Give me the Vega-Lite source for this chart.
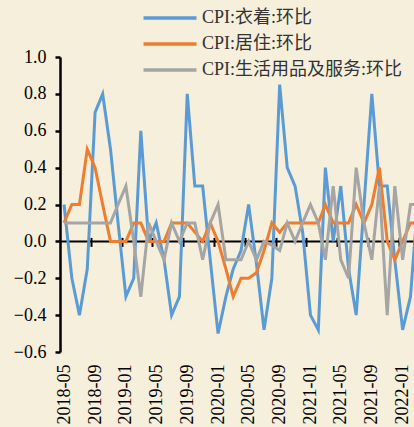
{
  "$schema": "https://vega.github.io/schema/vega-lite/v6.json",
  "width": 354,
  "height": 295,
  "autosize": {"type": "none"},
  "padding": {"left": 60, "top": 57, "right": 0, "bottom": 75},
  "background": "#f5efdc",
  "config": {"view": {"stroke": null}, "font": "Liberation Serif", "axis": {"labelFont": "Liberation Serif"}},
  "datasets": {
    "cpi": [
      {"date": "2018-05", "series": "CPI:衣着:环比", "value": 0.2},
      {"date": "2018-06", "series": "CPI:衣着:环比", "value": -0.2},
      {"date": "2018-07", "series": "CPI:衣着:环比", "value": -0.4},
      {"date": "2018-08", "series": "CPI:衣着:环比", "value": -0.15},
      {"date": "2018-09", "series": "CPI:衣着:环比", "value": 0.7},
      {"date": "2018-10", "series": "CPI:衣着:环比", "value": 0.8},
      {"date": "2018-11", "series": "CPI:衣着:环比", "value": 0.5},
      {"date": "2018-12", "series": "CPI:衣着:环比", "value": 0.1},
      {"date": "2019-01", "series": "CPI:衣着:环比", "value": -0.3},
      {"date": "2019-02", "series": "CPI:衣着:环比", "value": -0.2},
      {"date": "2019-03", "series": "CPI:衣着:环比", "value": 0.6},
      {"date": "2019-04", "series": "CPI:衣着:环比", "value": 0.0},
      {"date": "2019-05", "series": "CPI:衣着:环比", "value": 0.1},
      {"date": "2019-06", "series": "CPI:衣着:环比", "value": -0.1},
      {"date": "2019-07", "series": "CPI:衣着:环比", "value": -0.4},
      {"date": "2019-08", "series": "CPI:衣着:环比", "value": -0.3},
      {"date": "2019-09", "series": "CPI:衣着:环比", "value": 0.8},
      {"date": "2019-10", "series": "CPI:衣着:环比", "value": 0.3},
      {"date": "2019-11", "series": "CPI:衣着:环比", "value": 0.3},
      {"date": "2019-12", "series": "CPI:衣着:环比", "value": -0.1},
      {"date": "2020-01", "series": "CPI:衣着:环比", "value": -0.5},
      {"date": "2020-02", "series": "CPI:衣着:环比", "value": -0.3},
      {"date": "2020-03", "series": "CPI:衣着:环比", "value": -0.15},
      {"date": "2020-04", "series": "CPI:衣着:环比", "value": -0.05},
      {"date": "2020-05", "series": "CPI:衣着:环比", "value": 0.2},
      {"date": "2020-06", "series": "CPI:衣着:环比", "value": -0.12},
      {"date": "2020-07", "series": "CPI:衣着:环比", "value": -0.48},
      {"date": "2020-08", "series": "CPI:衣着:环比", "value": -0.2},
      {"date": "2020-09", "series": "CPI:衣着:环比", "value": 0.85},
      {"date": "2020-10", "series": "CPI:衣着:环比", "value": 0.4},
      {"date": "2020-11", "series": "CPI:衣着:环比", "value": 0.3},
      {"date": "2020-12", "series": "CPI:衣着:环比", "value": 0.05},
      {"date": "2021-01", "series": "CPI:衣着:环比", "value": -0.4},
      {"date": "2021-02", "series": "CPI:衣着:环比", "value": -0.48},
      {"date": "2021-03", "series": "CPI:衣着:环比", "value": 0.4},
      {"date": "2021-04", "series": "CPI:衣着:环比", "value": 0.0},
      {"date": "2021-05", "series": "CPI:衣着:环比", "value": 0.3},
      {"date": "2021-06", "series": "CPI:衣着:环比", "value": -0.15},
      {"date": "2021-07", "series": "CPI:衣着:环比", "value": -0.4},
      {"date": "2021-08", "series": "CPI:衣着:环比", "value": 0.2},
      {"date": "2021-09", "series": "CPI:衣着:环比", "value": 0.8},
      {"date": "2021-10", "series": "CPI:衣着:环比", "value": 0.3},
      {"date": "2021-11", "series": "CPI:衣着:环比", "value": 0.3},
      {"date": "2021-12", "series": "CPI:衣着:环比", "value": -0.1},
      {"date": "2022-01", "series": "CPI:衣着:环比", "value": -0.48},
      {"date": "2022-02", "series": "CPI:衣着:环比", "value": -0.3},
      {"date": "2022-03", "series": "CPI:衣着:环比", "value": 0.2},
      {"date": "2018-05", "series": "CPI:居住:环比", "value": 0.1},
      {"date": "2018-06", "series": "CPI:居住:环比", "value": 0.2},
      {"date": "2018-07", "series": "CPI:居住:环比", "value": 0.2},
      {"date": "2018-08", "series": "CPI:居住:环比", "value": 0.5},
      {"date": "2018-09", "series": "CPI:居住:环比", "value": 0.4},
      {"date": "2018-10", "series": "CPI:居住:环比", "value": 0.2},
      {"date": "2018-11", "series": "CPI:居住:环比", "value": 0.0},
      {"date": "2018-12", "series": "CPI:居住:环比", "value": 0.0},
      {"date": "2019-01", "series": "CPI:居住:环比", "value": 0.0},
      {"date": "2019-02", "series": "CPI:居住:环比", "value": 0.1},
      {"date": "2019-03", "series": "CPI:居住:环比", "value": 0.1},
      {"date": "2019-04", "series": "CPI:居住:环比", "value": 0.0},
      {"date": "2019-05", "series": "CPI:居住:环比", "value": 0.0},
      {"date": "2019-06", "series": "CPI:居住:环比", "value": 0.0},
      {"date": "2019-07", "series": "CPI:居住:环比", "value": 0.1},
      {"date": "2019-08", "series": "CPI:居住:环比", "value": 0.1},
      {"date": "2019-09", "series": "CPI:居住:环比", "value": 0.1},
      {"date": "2019-10", "series": "CPI:居住:环比", "value": 0.05},
      {"date": "2019-11", "series": "CPI:居住:环比", "value": 0.0},
      {"date": "2019-12", "series": "CPI:居住:环比", "value": 0.1},
      {"date": "2020-01", "series": "CPI:居住:环比", "value": 0.0},
      {"date": "2020-02", "series": "CPI:居住:环比", "value": -0.15},
      {"date": "2020-03", "series": "CPI:居住:环比", "value": -0.3},
      {"date": "2020-04", "series": "CPI:居住:环比", "value": -0.2},
      {"date": "2020-05", "series": "CPI:居住:环比", "value": -0.2},
      {"date": "2020-06", "series": "CPI:居住:环比", "value": -0.17},
      {"date": "2020-07", "series": "CPI:居住:环比", "value": -0.05},
      {"date": "2020-08", "series": "CPI:居住:环比", "value": 0.1},
      {"date": "2020-09", "series": "CPI:居住:环比", "value": 0.05},
      {"date": "2020-10", "series": "CPI:居住:环比", "value": 0.1},
      {"date": "2020-11", "series": "CPI:居住:环比", "value": 0.1},
      {"date": "2020-12", "series": "CPI:居住:环比", "value": 0.1},
      {"date": "2021-01", "series": "CPI:居住:环比", "value": 0.1},
      {"date": "2021-02", "series": "CPI:居住:环比", "value": 0.1},
      {"date": "2021-03", "series": "CPI:居住:环比", "value": 0.2},
      {"date": "2021-04", "series": "CPI:居住:环比", "value": 0.1},
      {"date": "2021-05", "series": "CPI:居住:环比", "value": 0.1},
      {"date": "2021-06", "series": "CPI:居住:环比", "value": 0.1},
      {"date": "2021-07", "series": "CPI:居住:环比", "value": 0.2},
      {"date": "2021-08", "series": "CPI:居住:环比", "value": 0.1},
      {"date": "2021-09", "series": "CPI:居住:环比", "value": 0.2},
      {"date": "2021-10", "series": "CPI:居住:环比", "value": 0.4},
      {"date": "2021-11", "series": "CPI:居住:环比", "value": 0.0},
      {"date": "2021-12", "series": "CPI:居住:环比", "value": -0.1},
      {"date": "2022-01", "series": "CPI:居住:环比", "value": 0.0},
      {"date": "2022-02", "series": "CPI:居住:环比", "value": 0.1},
      {"date": "2022-03", "series": "CPI:居住:环比", "value": 0.1},
      {"date": "2018-05", "series": "CPI:生活用品及服务:环比", "value": 0.1},
      {"date": "2018-06", "series": "CPI:生活用品及服务:环比", "value": 0.1},
      {"date": "2018-07", "series": "CPI:生活用品及服务:环比", "value": 0.1},
      {"date": "2018-08", "series": "CPI:生活用品及服务:环比", "value": 0.1},
      {"date": "2018-09", "series": "CPI:生活用品及服务:环比", "value": 0.1},
      {"date": "2018-10", "series": "CPI:生活用品及服务:环比", "value": 0.1},
      {"date": "2018-11", "series": "CPI:生活用品及服务:环比", "value": 0.1},
      {"date": "2018-12", "series": "CPI:生活用品及服务:环比", "value": 0.2},
      {"date": "2019-01", "series": "CPI:生活用品及服务:环比", "value": 0.3},
      {"date": "2019-02", "series": "CPI:生活用品及服务:环比", "value": 0.0},
      {"date": "2019-03", "series": "CPI:生活用品及服务:环比", "value": -0.3},
      {"date": "2019-04", "series": "CPI:生活用品及服务:环比", "value": 0.1},
      {"date": "2019-05", "series": "CPI:生活用品及服务:环比", "value": 0.0},
      {"date": "2019-06", "series": "CPI:生活用品及服务:环比", "value": -0.1},
      {"date": "2019-07", "series": "CPI:生活用品及服务:环比", "value": 0.1},
      {"date": "2019-08", "series": "CPI:生活用品及服务:环比", "value": 0.0},
      {"date": "2019-09", "series": "CPI:生活用品及服务:环比", "value": 0.1},
      {"date": "2019-10", "series": "CPI:生活用品及服务:环比", "value": 0.1},
      {"date": "2019-11", "series": "CPI:生活用品及服务:环比", "value": -0.1},
      {"date": "2019-12", "series": "CPI:生活用品及服务:环比", "value": 0.1},
      {"date": "2020-01", "series": "CPI:生活用品及服务:环比", "value": 0.2},
      {"date": "2020-02", "series": "CPI:生活用品及服务:环比", "value": -0.1},
      {"date": "2020-03", "series": "CPI:生活用品及服务:环比", "value": -0.1},
      {"date": "2020-04", "series": "CPI:生活用品及服务:环比", "value": -0.1},
      {"date": "2020-05", "series": "CPI:生活用品及服务:环比", "value": 0.0},
      {"date": "2020-06", "series": "CPI:生活用品及服务:环比", "value": -0.1},
      {"date": "2020-07", "series": "CPI:生活用品及服务:环比", "value": 0.0},
      {"date": "2020-08", "series": "CPI:生活用品及服务:环比", "value": -0.02},
      {"date": "2020-09", "series": "CPI:生活用品及服务:环比", "value": -0.05},
      {"date": "2020-10", "series": "CPI:生活用品及服务:环比", "value": 0.1},
      {"date": "2020-11", "series": "CPI:生活用品及服务:环比", "value": 0.0},
      {"date": "2020-12", "series": "CPI:生活用品及服务:环比", "value": 0.1},
      {"date": "2021-01", "series": "CPI:生活用品及服务:环比", "value": 0.2},
      {"date": "2021-02", "series": "CPI:生活用品及服务:环比", "value": 0.1},
      {"date": "2021-03", "series": "CPI:生活用品及服务:环比", "value": -0.1},
      {"date": "2021-04", "series": "CPI:生活用品及服务:环比", "value": 0.3},
      {"date": "2021-05", "series": "CPI:生活用品及服务:环比", "value": -0.1},
      {"date": "2021-06", "series": "CPI:生活用品及服务:环比", "value": -0.2},
      {"date": "2021-07", "series": "CPI:生活用品及服务:环比", "value": 0.4},
      {"date": "2021-08", "series": "CPI:生活用品及服务:环比", "value": 0.1},
      {"date": "2021-09", "series": "CPI:生活用品及服务:环比", "value": -0.1},
      {"date": "2021-10", "series": "CPI:生活用品及服务:环比", "value": 0.3},
      {"date": "2021-11", "series": "CPI:生活用品及服务:环比", "value": -0.4},
      {"date": "2021-12", "series": "CPI:生活用品及服务:环比", "value": 0.3},
      {"date": "2022-01", "series": "CPI:生活用品及服务:环比", "value": -0.1},
      {"date": "2022-02", "series": "CPI:生活用品及服务:环比", "value": 0.2},
      {"date": "2022-03", "series": "CPI:生活用品及服务:环比", "value": 0.2}
    ]
  },
  "resolve": {"axis": {"x": "independent", "y": "independent"}},
  "layer": [
    {
      "data": {"values": [{"zero": 0}]},
      "mark": {"type": "rule", "color": "black", "strokeWidth": 2},
      "encoding": {
        "y": {"field": "zero", "type": "quantitative", "scale": {"domain": [-0.6, 1.0], "nice": false, "zero": false}, "axis": null}
      }
    },
    {
      "data": {"name": "cpi"},
      "mark": {"type": "line", "strokeWidth": 3, "clip": true},
      "encoding": {
        "x": {
          "field": "date", "type": "temporal",
          "scale": {"type": "utc", "domain": [{"year": 2018, "month": 4, "date": 15, "utc": true}, {"year": 2022, "month": 2, "date": 15, "utc": true}]},
          "axis": {
            "orient": "bottom", "title": null, "grid": false, "domain": false, "ticks": false,
            "values": [
              {"year": 2018, "month": 5, "date": 1, "utc": true},
              {"year": 2018, "month": 9, "date": 1, "utc": true},
              {"year": 2019, "month": 1, "date": 1, "utc": true},
              {"year": 2019, "month": 5, "date": 1, "utc": true},
              {"year": 2019, "month": 9, "date": 1, "utc": true},
              {"year": 2020, "month": 1, "date": 1, "utc": true},
              {"year": 2020, "month": 5, "date": 1, "utc": true},
              {"year": 2020, "month": 9, "date": 1, "utc": true},
              {"year": 2021, "month": 1, "date": 1, "utc": true},
              {"year": 2021, "month": 5, "date": 1, "utc": true},
              {"year": 2021, "month": 9, "date": 1, "utc": true},
              {"year": 2022, "month": 1, "date": 1, "utc": true}
            ],
            "labelExpr": "utcFormat(datum.value, '%Y-%m')",
            "labelAngle": -90, "labelFontSize": 18, "labelColor": "black", "labelPadding": 12,
            "labelOverlap": false, "labelBound": false, "labelFlush": false
          }
        },
        "y": {
          "field": "value", "type": "quantitative",
          "scale": {"domain": [-0.6, 1.0], "nice": false, "zero": false},
          "axis": {
            "title": null, "grid": false,
            "values": [-0.6, -0.4, -0.2, 0, 0.2, 0.4, 0.6, 0.8, 1.0],
            "format": ".1f",
            "domainColor": "black", "domainWidth": 2.5,
            "tickColor": "black", "tickWidth": 2.5, "tickSize": 5,
            "labelFontSize": 18, "labelColor": "black", "labelPadding": 9
          }
        },
        "color": {
          "field": "series", "type": "nominal",
          "scale": {"domain": ["CPI:衣着:环比", "CPI:居住:环比", "CPI:生活用品及服务:环比"], "range": ["#5B9BD5", "#ED7D31", "#A5A5A5"]},
          "legend": {
            "orient": "none", "legendX": 101, "legendY": -48, "title": null,
            "symbolType": "M-5.3,0H5.3", "symbolSize": 100, "symbolStrokeWidth": 3.5,
            "labelFontSize": 18, "labelFont": "Liberation Serif, Noto Sans CJK SC", "labelColor": "#333333",
            "labelOffset": 23, "rowPadding": 8, "labelLimit": 400
          }
        }
      }
    },
    {
      "data": {"name": "cpi"},
      "mark": {"type": "point", "opacity": 0},
      "encoding": {
        "x": {
          "field": "date", "type": "temporal",
          "axis": {
            "orient": "bottom", "offset": -114.6, "title": null, "grid": false, "domain": false, "labels": false,
            "ticks": true, "tickSize": 9, "tickWidth": 2, "tickColor": "black",
            "values": [
              {"year": 2018, "month": 8, "date": 16, "utc": true},
              {"year": 2018, "month": 12, "date": 16, "utc": true},
              {"year": 2019, "month": 4, "date": 16, "utc": true},
              {"year": 2019, "month": 8, "date": 16, "utc": true},
              {"year": 2019, "month": 12, "date": 16, "utc": true},
              {"year": 2020, "month": 4, "date": 16, "utc": true},
              {"year": 2020, "month": 8, "date": 16, "utc": true},
              {"year": 2020, "month": 12, "date": 16, "utc": true},
              {"year": 2021, "month": 4, "date": 16, "utc": true},
              {"year": 2021, "month": 8, "date": 16, "utc": true},
              {"year": 2021, "month": 12, "date": 16, "utc": true}
            ]
          }
        },
        "y": {"field": "value", "type": "quantitative", "axis": null}
      }
    }
  ]
}
